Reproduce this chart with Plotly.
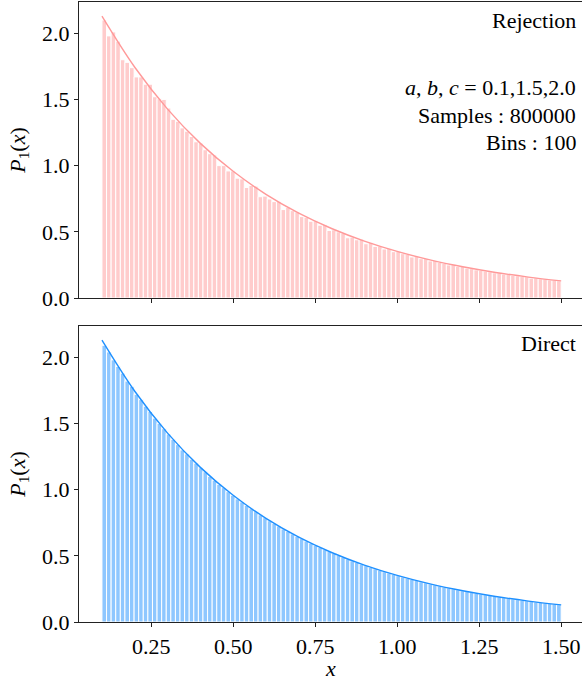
import numpy as np
import plotly.graph_objects as go

# ---- data ----
bin_lo, bin_hi = 0.1, 1.5

rejection_vals = [
    2.10, 1.98, 2.01, 1.94, 1.80, 1.78, 1.74, 1.67, 1.67, 1.615,
    1.615, 1.52, 1.505, 1.50, 1.435, 1.35, 1.335, 1.285, 1.26, 1.22,
    1.18, 1.17, 1.12, 1.09, 1.08, 1.00, 1.00, 0.96, 0.96, 0.905,
    0.90, 0.835, 0.85, 0.845, 0.765, 0.77, 0.748, 0.728, 0.73, 0.668,
    0.685, 0.66, 0.65, 0.615, 0.61, 0.58, 0.583, 0.55, 0.555, 0.51,
    0.515, 0.50, 0.49, 0.455, 0.46, 0.44, 0.445, 0.41, 0.42, 0.39,
    0.392, 0.37, 0.375, 0.35, 0.352, 0.335, 0.33, 0.31, 0.315, 0.297,
    0.298, 0.28, 0.283, 0.268, 0.262, 0.25, 0.252, 0.238, 0.238, 0.226,
    0.222, 0.213, 0.21, 0.203, 0.198, 0.19, 0.19, 0.18, 0.178, 0.17,
    0.168, 0.162, 0.16, 0.15, 0.152, 0.145, 0.143, 0.136, 0.135, 0.13,
]

direct_vals = [
    2.09, 2.04, 1.98, 1.93, 1.88, 1.82, 1.78, 1.72, 1.68, 1.63,
    1.59, 1.54, 1.50, 1.46, 1.42, 1.38, 1.34, 1.30, 1.27, 1.23,
    1.20, 1.165, 1.135, 1.10, 1.07, 1.04, 1.015, 0.985, 0.958, 0.93,
    0.907, 0.88, 0.856, 0.834, 0.81, 0.788, 0.765, 0.745, 0.725, 0.703,
    0.685, 0.666, 0.647, 0.63, 0.612, 0.596, 0.578, 0.563, 0.547, 0.532,
    0.518, 0.503, 0.49, 0.476, 0.462, 0.45, 0.437, 0.426, 0.413, 0.402,
    0.391, 0.38, 0.37, 0.36, 0.35, 0.34, 0.331, 0.322, 0.313, 0.304,
    0.296, 0.287, 0.28, 0.272, 0.264, 0.257, 0.25, 0.243, 0.236, 0.23,
    0.223, 0.217, 0.211, 0.206, 0.2, 0.194, 0.189, 0.184, 0.179, 0.174,
    0.169, 0.164, 0.16, 0.155, 0.151, 0.147, 0.143, 0.139, 0.135, 0.131,
]

curve_x = [0.1, 0.2, 0.3, 0.4, 0.5, 0.6, 0.7, 0.8, 0.9, 1.0, 1.1, 1.2, 1.3, 1.4, 1.5]
curve_y = [2.129, 1.743, 1.427, 1.168, 0.957, 0.783, 0.641, 0.525, 0.430,
           0.352, 0.288, 0.236, 0.193, 0.158, 0.129]

x_ticks = [0.25, 0.50, 0.75, 1.00, 1.25, 1.50]
y_ticks = [0.0, 0.5, 1.0, 1.5, 2.0]

panel_labels = ["Rejection", "Direct"]
info_lines = ["<i>a</i>, <i>b</i>, <i>c</i> = 0.1,1.5,2.0", "Samples : 800000", "Bins : 100"]
x_label = "<i>x</i>"
y_label = "<i>P</i><sub>1</sub>(<i>x</i>)"

# ---- figure ----
FONT = "Liberation Serif"
FS = 22

n = len(rejection_vals)
width = (bin_hi - bin_lo) / n
centers = bin_lo + width * (np.arange(n) + 0.5)

fig = go.Figure()

fig.add_trace(go.Bar(x=centers, y=rejection_vals, width=width,
                     marker=dict(color="rgba(255,153,153,0.5)", line=dict(color="white", width=1)),
                     xaxis="x", yaxis="y", showlegend=False))
fig.add_trace(go.Scatter(x=curve_x, y=curve_y, mode="lines", line=dict(color="#ff9999", width=1.4, shape="spline"),
                         xaxis="x", yaxis="y", showlegend=False))

fig.add_trace(go.Bar(x=centers, y=direct_vals, width=width,
                     marker=dict(color="rgba(30,144,255,0.5)", line=dict(color="white", width=1)),
                     xaxis="x2", yaxis="y2", showlegend=False))
fig.add_trace(go.Scatter(x=curve_x, y=curve_y, mode="lines", line=dict(color="#1e90ff", width=1.4, shape="spline"),
                         xaxis="x2", yaxis="y2", showlegend=False))

W, H = 582, 682
ml, mr, mt, mb = 79, 0, 2, 60
plot_w = W - ml - mr
px_per_x = 328.0
xr = [0.03, 0.03 + plot_w / px_per_x]
yr = [0, 2.236]

axis_common = dict(showline=True, linecolor="#222", linewidth=1.1, ticks="outside",
                   ticklen=4, tickwidth=1, tickcolor="#222", showgrid=False, zeroline=False,
                   tickfont=dict(family=FONT, size=FS, color="black"))

ph = H - mt - mb
top_dom = [(622 - 298) / ph, 1.0]
bot_dom = [0.0, (622 - 326) / ph]

fig.update_layout(
    width=W, height=H, margin=dict(l=ml, r=mr, t=mt, b=mb),
    plot_bgcolor="white", paper_bgcolor="white", bargap=0,
    font=dict(family=FONT, size=FS, color="black"),
    xaxis=dict(domain=[0, 1], range=xr, anchor="y", tickvals=x_ticks, showticklabels=False,
               mirror=True, **axis_common),
    yaxis=dict(domain=top_dom, range=yr, anchor="x", tickvals=y_ticks, tickformat=".1f",
               title=dict(text=y_label, standoff=10, font=dict(family=FONT, size=FS)), **axis_common),
    xaxis2=dict(domain=[0, 1], range=xr, anchor="y2", matches="x", tickvals=x_ticks, tickformat=".2f",
                mirror=True, **axis_common),
    yaxis2=dict(domain=bot_dom, range=yr, anchor="x2", tickvals=y_ticks, tickformat=".1f",
                title=dict(text=y_label, standoff=10, font=dict(family=FONT, size=FS)), **axis_common),
)

def py(pix):
    return (622 - pix) / ph

def px(pix):
    return (pix - ml) / plot_w

ann = [
    (panel_labels[0], 20),
    (info_lines[0], 87),
    (info_lines[1], 115),
    (info_lines[2], 142),
    (panel_labels[1], 343),
]
for text, ypix in ann:
    fig.add_annotation(text=text, xref="paper", yref="paper", x=px(578), y=py(ypix),
                       xanchor="right", yanchor="middle", showarrow=False,
                       font=dict(family=FONT, size=FS, color="black"))

# x-axis label of the lower panel
fig.add_annotation(text=x_label, xref="paper", yref="paper", x=px(330.5), y=py(668),
                   xanchor="center", yanchor="middle", showarrow=False,
                   font=dict(family=FONT, size=FS, color="black"))

fig.write_html("out.html", config={"displayModeBar": False, "staticPlot": True})

# remove the browser's default page margin so the figure sits at the window origin
with open("out.html", "r", encoding="utf-8") as f:
    html = f.read()
html = html.replace("<head>", "<head><style>html,body{margin:0;padding:0;overflow:hidden;}</style>", 1)
with open("out.html", "w", encoding="utf-8") as f:
    f.write(html)
